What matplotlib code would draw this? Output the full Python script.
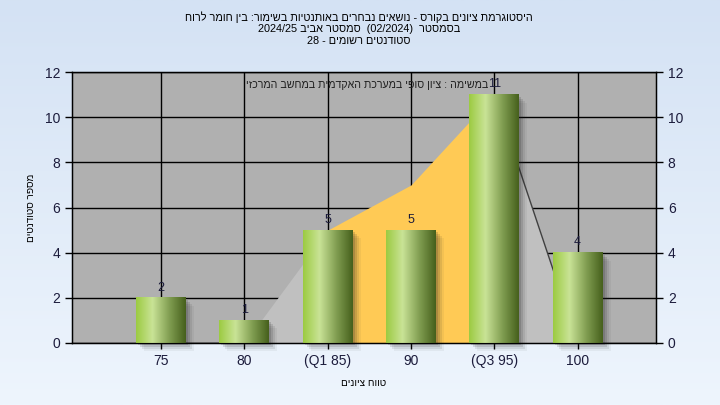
import numpy as np
import matplotlib
matplotlib.use('Agg')
import matplotlib.pyplot as plt
from matplotlib.colors import LinearSegmentedColormap
from matplotlib.patches import Rectangle
import matplotlib.transforms as mtransforms

plt.rcParams['font.family'] = ['Liberation Sans', 'DejaVu Sans']
heb_family = ['Liberation Sans', 'DejaVu Sans']

# ---------------- data ----------------
categories = ['75', '80', '(Q1 85)', '90', '(Q3 95)', '100']
counts = [2, 1, 5, 5, 11, 4]
curve = [0, 0, 5, 7, 11, 0]

# Hebrew strings written in visual (left-to-right) order
title_lines = [
    'חורל רמוח ןיב :רומישב תויטנתואב םירחבנ םיאשונ - סרוקב םינויצ תמרגוטסיה',
    '2024/25 ביבא רטסמס  (02/2024)  רטסמסב',
    '28 - םימושר םיטנדוטס',
]
annotation = 'יזכרמה בשחמב תימדקאה תכרעמב יפוס ןויצ : המישמב'
xlabel = 'םינויצ חווט'
ylabel = 'םיטנדוטס רפסמ'

q1 = [i for i, c in enumerate(categories) if 'Q1' in c][0]
q3 = [i for i, c in enumerate(categories) if 'Q3' in c][0]

text_color = '#1c1c3c'

fig = plt.figure(figsize=(7.2, 4.05), dpi=100)

# background gradient
bg = fig.add_axes([0, 0, 1, 1], zorder=-10)
grad = np.linspace(0, 1, 256).reshape(-1, 1)
bg.imshow(grad, aspect='auto', extent=(0, 1, 0, 1),
          cmap=LinearSegmentedColormap.from_list('bg', ['#d4e2f4', '#eef5fd']))
bg.axis('off')

ax = fig.add_axes([0.1, 0.1531, 0.8111, 0.6691])
ax.set_facecolor('#b0b0b0')
x = np.arange(len(categories))

# grid below everything
ax.set_axisbelow(True)
ax.grid(True, color='black', linewidth=1)

# area curve
ax.fill_between(x[:q1 + 1], curve[:q1 + 1], color='#c0c0c0', lw=0, zorder=1)
ax.fill_between(x[q1:q3 + 1], curve[q1:q3 + 1], color='#ffca55', lw=0, zorder=1)
ax.fill_between(x[q3:], curve[q3:], color='#c0c0c0', lw=0, zorder=1)
ax.plot(x[:2], curve[:2], color='#404040', lw=1, zorder=1.5)
ax.plot(x[-2:], curve[-2:], color='#404040', lw=1, zorder=1.5)

# bars with gradient + shadow
w = 0.6
bar_cmap = LinearSegmentedColormap.from_list(
    'bar', [(0, '#9ccb42'), (0.33, '#c9e396'), (0.68, '#7f9c50'), (1, '#46601c')])
row = np.linspace(0, 1, 200).reshape(1, -1)
for xi, v in zip(x, counts):
    for k, (off, a) in enumerate([(2, 0.16), (4, 0.13), (6, 0.09), (8, 0.05)]):
        tr = ax.transData + mtransforms.ScaledTranslation(off / 100, -off / 100, fig.dpi_scale_trans)
        ax.add_patch(Rectangle((xi - w / 2, 0), w, v, transform=tr, color='#202020',
                               alpha=a, lw=0, zorder=2, clip_on=False))
    ax.imshow(row, extent=(xi - w / 2, xi + w / 2, 0, v), aspect='auto',
              cmap=bar_cmap, zorder=3, interpolation='bilinear')
    ax.annotate(str(v), (xi, v), xytext=(0, 3), textcoords='offset points',
                ha='center', va='bottom', fontsize=9, color=text_color, zorder=5)

ax.set_xlim(-1.07, 5.94)
ax.set_ylim(0, 12)
ax.set_xticks(x, categories)
ax.set_yticks(range(0, 13, 2))
ax.tick_params(axis='both', direction='out', length=5, width=1, colors='black',
               labelcolor=text_color, labelsize=10)
ax.tick_params(axis='x', length=4, pad=4)
for s in ax.spines.values():
    s.set_color('black')
    s.set_linewidth(1)

ax2 = ax.twinx()
ax2.set_ylim(0, 12)
ax2.set_yticks(range(0, 13, 2))
ax2.tick_params(axis='y', direction='out', length=5, width=1, colors='black',
                labelcolor=text_color, labelsize=10)

ax.text(0.505, 0.952, annotation, transform=ax.transAxes, ha='center', va='center',
        fontsize=7.7, color='#202020', zorder=6, family=heb_family)

ax.set_xlabel(xlabel, fontsize=7.2, color='black', labelpad=7, family=heb_family)
ax.set_ylabel(ylabel, fontsize=7.2, color='black', labelpad=6, family=heb_family)

for i, (t, yy) in enumerate(zip(title_lines, [17, 29, 41])):
    fig.text(0.4986, 1 - yy / 405, t, ha='center', va='center', fontsize=7.8,
             color='black', family=heb_family)

fig.savefig('out.png', dpi=100)
